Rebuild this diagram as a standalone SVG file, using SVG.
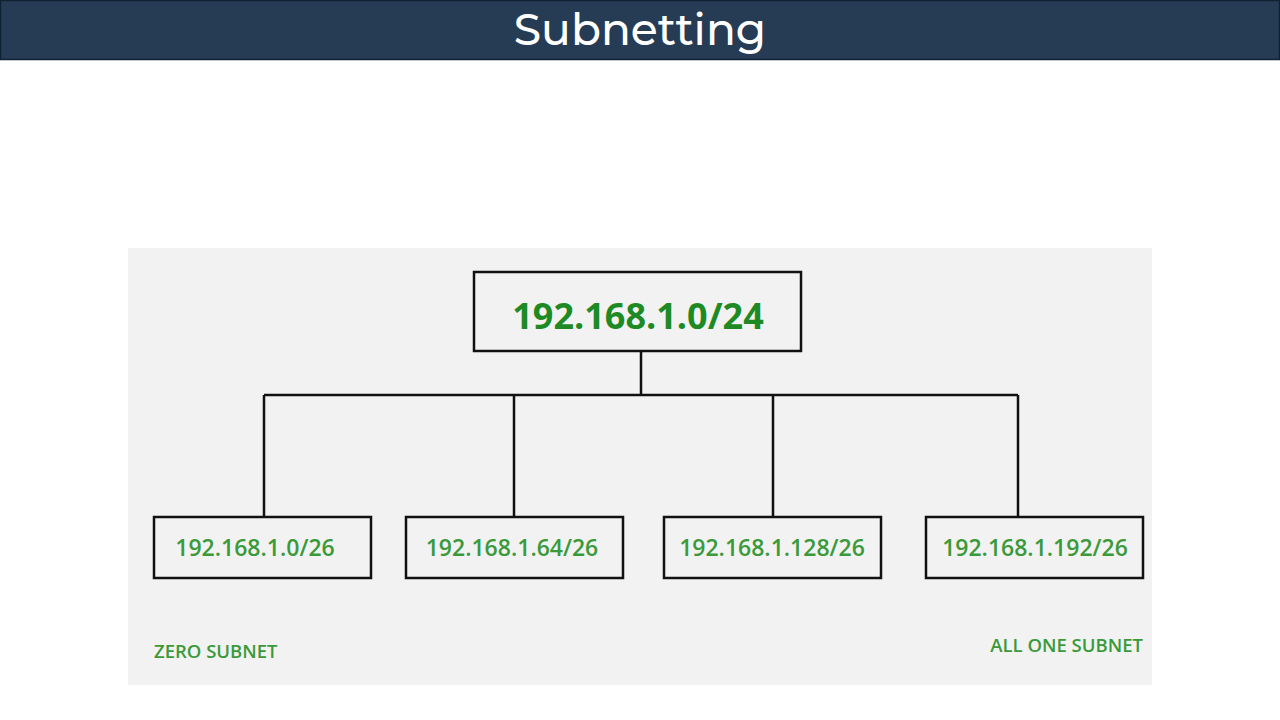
<svg xmlns="http://www.w3.org/2000/svg" width="1280" height="720" viewBox="0 0 1280 720">
<style>
.box{fill:#f2f2f2;stroke:#111;stroke-width:2.5}
.lbl{font-family:"Open Sans","Noto Sans",sans-serif;fill:#3a9a3a;text-anchor:middle;font-size:23px;font-weight:600}
.note{font-family:"Open Sans","Noto Sans",sans-serif;fill:#3a9a3a;font-size:18.5px;font-weight:600}
.conn{stroke:#111;stroke-width:2.5;fill:none}
</style>
<rect x="0" y="0" width="1280" height="720" fill="#ffffff"/>
<g id="header">
<rect x="0.5" y="0.5" width="1279" height="59" fill="#263b54" stroke="#0f2233" stroke-width="1.5"/>
<text x="640" y="45" font-family="Montserrat,'Open Sans','Noto Sans',sans-serif" font-size="44" font-weight="500" fill="#ffffff" text-anchor="middle">Subnetting</text>
</g>
<rect id="panel" x="128" y="248" width="1024" height="437" fill="#f2f2f2"/>
<g id="connectors">
<path class="conn" d="M641 351 V395 M264 395 H1018 M264 395 V517 M514 395 V517 M773 395 V517 M1018 395 V517"/>
</g>
<g id="root">
<rect class="box" x="474" y="272" width="327" height="79"/>
<text class="lbl" x="638" y="329" style="font-size:36px;font-weight:bold;fill:#1e8a24">192.168.1.0/24</text>
</g>
<g id="subnet0">
<rect class="box" x="154" y="517" width="217" height="61"/>
<text class="lbl" x="255" y="556">192.168.1.0/26</text>
</g>
<g id="subnet64">
<rect class="box" x="406" y="517" width="217" height="61"/>
<text class="lbl" x="512" y="556">192.168.1.64/26</text>
</g>
<g id="subnet128">
<rect class="box" x="664" y="517" width="217" height="61"/>
<text class="lbl" x="772" y="556">192.168.1.128/26</text>
</g>
<g id="subnet192">
<rect class="box" x="926" y="517" width="217" height="61"/>
<text class="lbl" x="1035" y="556">192.168.1.192/26</text>
</g>
<g id="notes">
<text class="note" x="154" y="658">ZERO SUBNET</text>
<text class="note" x="1143" y="652" text-anchor="end">ALL ONE SUBNET</text>
</g>
</svg>
